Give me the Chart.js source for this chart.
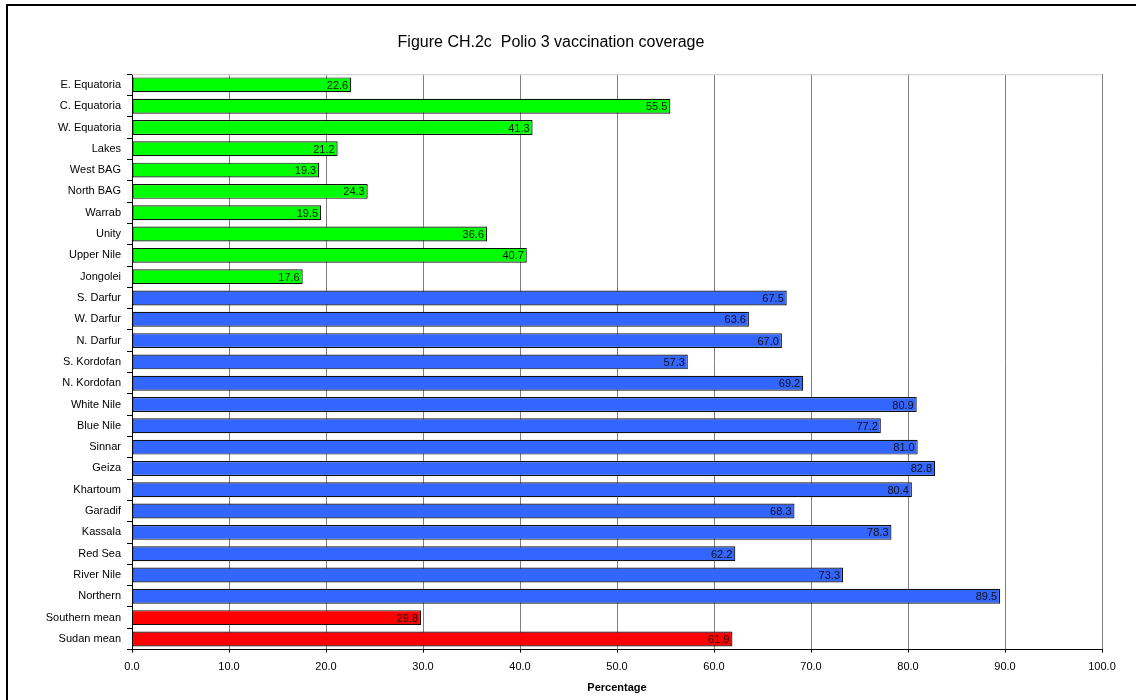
<!DOCTYPE html>
<html>
<head>
<meta charset="utf-8">
<script src="https://cdn.jsdelivr.net/npm/chart.js@4.4.1/dist/chart.umd.min.js"></script>
<style>
    body { margin: 0; background: #fff; overflow: hidden; }
    #frame {
        position: absolute; left: 6px; top: 4px;
        width: 1140px; height: 700px;
        border: 2px solid #000; box-sizing: border-box;
    }
    #wrap { position: absolute; left: 0; top: 0; width: 1136px; height: 700px; }
</style>
</head>
<body>
<div id="frame"></div>
<div id="wrap"><canvas id="polioChart" width="1136" height="700"></canvas></div>
<script>
const regions = ['E. Equatoria', 'C. Equatoria', 'W. Equatoria', 'Lakes', 'West BAG', 'North BAG',
    'Warrab', 'Unity', 'Upper Nile', 'Jongolei', 'S. Darfur', 'W. Darfur', 'N. Darfur',
    'S. Kordofan', 'N. Kordofan', 'White Nile', 'Blue Nile', 'Sinnar', 'Geiza', 'Khartoum',
    'Garadif', 'Kassala', 'Red Sea', 'River Nile', 'Northern', 'Southern mean', 'Sudan mean'];
const coverage = [22.6, 55.5, 41.3, 21.2, 19.3, 24.3, 19.5, 36.6, 40.7, 17.6, 67.5, 63.6, 67.0,
    57.3, 69.2, 80.9, 77.2, 81.0, 82.8, 80.4, 68.3, 78.3, 62.2, 73.3, 89.5, 29.8, 61.9];
// group of each bar: south, north, mean
const groups = ['S', 'S', 'S', 'S', 'S', 'S', 'S', 'S', 'S', 'S', 'N', 'N', 'N', 'N', 'N', 'N',
    'N', 'N', 'N', 'N', 'N', 'N', 'N', 'N', 'N', 'M', 'M'];
const xTicks = [0, 10, 20, 30, 40, 50, 60, 70, 80, 90, 100];

const groupColors = { S: '#00ff00', N: '#3366ff', M: '#ff0000' };
const FONT = "'Liberation Sans', Arial, sans-serif";

// value labels at the end of each bar
const valueLabels = {
    id: 'valueLabels',
    afterDatasetsDraw(chart) {
        const ctx = chart.ctx;
        const meta = chart.getDatasetMeta(0);
        ctx.save();
        ctx.font = '11px ' + FONT;
        ctx.fillStyle = '#111';
        ctx.textAlign = 'right';
        ctx.textBaseline = 'middle';
        meta.data.forEach((bar, i) => {
            ctx.fillText(coverage[i].toFixed(1), bar.x - 3, bar.y + 1);
        });
        ctx.restore();
    }
};

// light line along the top of the plot area
const plotTop = {
    id: 'plotTop',
    beforeDatasetsDraw(chart) {
        const a = chart.chartArea;
        const ctx = chart.ctx;
        ctx.save();
        ctx.strokeStyle = '#c8c8c8';
        ctx.lineWidth = 1;
        ctx.beginPath();
        ctx.moveTo(a.left, a.top + 0.5);
        ctx.lineTo(a.right, a.top + 0.5);
        ctx.stroke();
        ctx.restore();
    }
};

new Chart(document.getElementById('polioChart').getContext('2d'), {
    type: 'bar',
    data: {
        labels: regions,
        datasets: [{
            data: coverage,
            backgroundColor: groups.map(g => groupColors[g]),
            borderColor: '#111',
            borderWidth: 1.2,
            borderSkipped: false,
            barPercentage: 0.7,
            categoryPercentage: 1.0
        }]
    },
    options: {
        indexAxis: 'y',
        responsive: false,
        animation: false,
        layout: { padding: { top: 0, right: 34, bottom: 5, left: 0 } },
        plugins: {
            legend: { display: false },
            tooltip: { enabled: false },
            title: {
                display: true,
                text: 'Figure CH.2c  Polio 3 vaccination coverage',
                color: '#000',
                font: { family: FONT, size: 16, weight: 'normal' },
                padding: { top: 33, bottom: 22 }
            }
        },
        scales: {
            x: {
                min: 0,
                max: 100,
                afterBuildTicks: axis => { axis.ticks = xTicks.map(v => ({ value: v })); },
                ticks: {
                    color: '#000',
                    font: { family: FONT, size: 11 },
                    padding: 8,
                    callback: v => v.toFixed(1)
                },
                grid: { color: '#808080', lineWidth: 1, tickLength: 3, tickColor: '#000' },
                border: { color: '#000', width: 1 },
                title: {
                    display: true,
                    text: 'Percentage',
                    color: '#000',
                    font: { family: FONT, size: 11, weight: 'bold' },
                    padding: { top: 0, bottom: 0 }
                }
            },
            y: {
                afterFit: axis => { axis.width = 132; },
                ticks: {
                    color: '#000',
                    font: { family: FONT, size: 11 },
                    padding: 6
                },
                grid: { drawOnChartArea: false, offset: true, tickLength: 5, tickColor: '#000' },
                border: { color: '#000', width: 1 }
            }
        }
    },
    plugins: [valueLabels, plotTop]
});
</script>
</body>
</html>
